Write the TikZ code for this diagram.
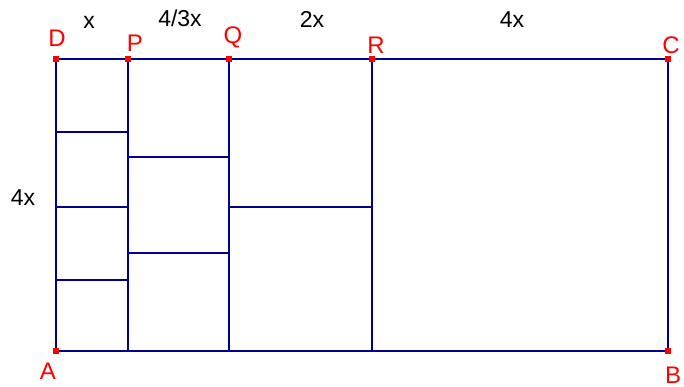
\documentclass[tikz,border=0pt]{standalone}
\usepackage{fontspec}
\setmainfont{Liberation Sans}
\begin{document}
\begin{tikzpicture}[x=1pt,y=-1pt,
  edge/.style={draw={rgb,255:red,0;green,0;blue,140},line width=1.6pt},
  pt/.style={fill=red,minimum size=6pt,inner sep=0pt,outer sep=0pt},
  lbl/.style={text=red,font=\fontsize{24}{24}\selectfont,inner sep=0pt},
  dim/.style={text=black,font=\fontsize{23}{23}\selectfont,inner sep=0pt}]
\useasboundingbox (0,0) rectangle (684,387);
% corner and division points
\coordinate (A) at (56,351);
\coordinate (B) at (668,351);
\coordinate (C) at (668,59);
\coordinate (D) at (56,59);
\coordinate (P) at (128,59);
\coordinate (Q) at (229,59);
\coordinate (R) at (372,59);
\coordinate (Pb) at (128,351);
\coordinate (Qb) at (229,351);
\coordinate (Rb) at (372,351);
% internal horizontal lines
\coordinate (h1l) at (56,132);  \coordinate (h1r) at (128,132);
\coordinate (h2l) at (56,207);  \coordinate (h2r) at (128,207);
\coordinate (h3l) at (56,280);  \coordinate (h3r) at (128,280);
\coordinate (k1l) at (128,157); \coordinate (k1r) at (229,157);
\coordinate (k2l) at (128,253); \coordinate (k2r) at (229,253);
\coordinate (m1l) at (229,207); \coordinate (m1r) at (372,207);
\draw[edge] (A) -- (B) -- (C) -- (D) -- cycle;
\draw[edge] (P) -- (Pb);
\draw[edge] (Q) -- (Qb);
\draw[edge] (R) -- (Rb);
\draw[edge] (h1l) -- (h1r);
\draw[edge] (h2l) -- (h2r);
\draw[edge] (h3l) -- (h3r);
\draw[edge] (k1l) -- (k1r);
\draw[edge] (k2l) -- (k2r);
\draw[edge] (m1l) -- (m1r);
% points
\foreach \p in {A,B,C,D,P,Q,R} \node[pt] at (\p) {};
% labels
\node[lbl] (lD) at (57,38) {D};
\node[lbl] (lP) at (135,43) {P};
\node[lbl] (lQ) at (233,37) {Q};
\node[lbl] (lR) at (376,45) {R};
\node[lbl] (lC) at (671,45) {C};
\node[lbl] (lA) at (48,371) {A};
\node[lbl] (lB) at (673,375) {B};
\node[dim] (dx) at (89,22) {x};
\node[dim] (d43) at (180,18) {4/3x};
\node[dim] (d2) at (312,19) {2x};
\node[dim] (d4) at (512,20) {4x};
\node[dim] (dv) at (23,198) {4x};
\end{tikzpicture}
\end{document}
